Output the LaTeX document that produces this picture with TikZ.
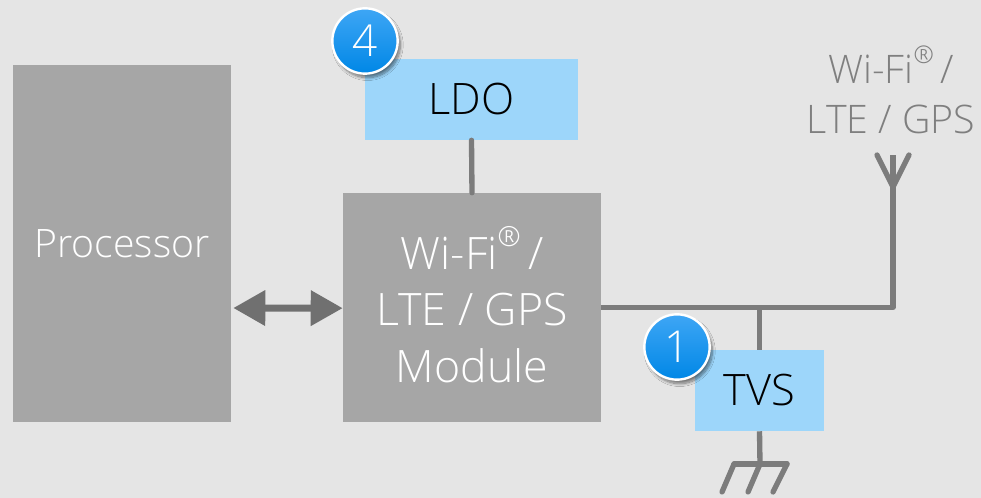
\documentclass[tikz,border=0pt]{standalone}
\usepackage{fontspec}
\setmainfont{Open Sans}[UprightFont=* Light]
\usetikzlibrary{arrows.meta,shadows.blur}
\definecolor{bgcol}{RGB}{229,229,229}
\definecolor{blockcol}{RGB}{166,166,166}
\definecolor{partcol}{RGB}{157,214,250}
\definecolor{wirecol}{RGB}{124,124,124}
\definecolor{arrowcol}{RGB}{112,112,112}
\definecolor{labelcol}{RGB}{127,127,127}
\newcommand{\regmark}{\raisebox{0.5em}{\scalebox{0.62}{®}}}
\tikzset{
  blockbox/.style={fill=blockcol,text=white,inner sep=0pt,align=center,font=\fontsize{33.5}{42.5}\selectfont},
  partbox/.style={fill=partcol,text=black,inner sep=0pt,font=\fontsize{32.5}{36}\selectfont},
  wire/.style={draw=wirecol,line width=4pt,line cap=round,line join=round},
  bubble/.style={circle,draw=white,line width=1.8pt,minimum size=49pt,inner sep=0pt,text=white,
    shade,top color={rgb,255:red,62;green,166;blue,245},middle color={rgb,255:red,5;green,155;blue,248},bottom color={rgb,255:red,0;green,135;blue,230},
    blur shadow={shadow xshift=2pt,shadow yshift=-3pt,shadow blur steps=10,shadow opacity=50},
    font=\fontsize{33}{33}\selectfont},
}
\begin{document}
\begin{tikzpicture}[x=0.75pt,y=0.75pt,yscale=-1,xscale=1]
\useasboundingbox[fill=bgcol] (0,0) rectangle (981,498);

% blocks
\node[blockbox,font=\fontsize{29.4}{36}\selectfont,minimum width=163.5pt,minimum height=267.75pt] (proc) at (122,243.5) {Processor};
\node[blockbox,minimum width=193.5pt,minimum height=171.75pt] (module) at (472,307.5) {Wi-Fi\regmark\,/\\LTE / GPS\\Module\rule[-4.5pt]{0pt}{0pt}};
\node[partbox,minimum width=159.75pt,minimum height=60.75pt] (ldo) at (471.5,99.5) {LDO};
\node[partbox,minimum width=96.75pt,minimum height=60.75pt] (tvs) at (759.5,390.5) {TVS};

% antenna and ground points
\coordinate (bend) at (893,307.5);
\coordinate (tee) at (759.5,307.5);
\coordinate (anttop) at (893,155);
\coordinate (antfoot) at (893,187);
\coordinate (antl) at (877,155);
\coordinate (antr) at (909,155);
\coordinate (gnd) at (760,464);
\coordinate (gndl) at (734,464);
\coordinate (gndr) at (787,464);

% connectors
\draw[wire] (ldo.south) -- (module.north);
\draw[wire,line cap=butt] (module.east) -- (bend) -- (anttop);
\draw[wire,line cap=butt] (tee) -- (tvs.north);
\draw[wire,line cap=butt] (tvs.south) -- (gnd);
\draw[wire] (antl) -- (antfoot) -- (antr);
\draw[wire] (gndl) -- (gndr);
\draw[wire] (gndl) -- ++(-12,28);
\draw[wire] (gnd) -- ++(-12,28);
\draw[wire] (gndr) -- ++(-14,28);
\draw[arrowcol,line width=5.25pt,{Triangle[length=24pt,width=25.5pt]}-{Triangle[length=24pt,width=25.5pt]}] (proc.east |- module.east) ++(2,0.5) -- ([yshift=0.5]module.west);

% antenna label
\node[text=labelcol,align=center,font=\fontsize{29.5}{37.5}\selectfont] (antlabel) at (891,90) {Wi-Fi\regmark\,/\\LTE / GPS};

% numbered bubbles
\node[bubble] (mark4) at (365,41) {4};
\node[bubble] (mark1) at (677,347) {1};
\end{tikzpicture}
\end{document}
